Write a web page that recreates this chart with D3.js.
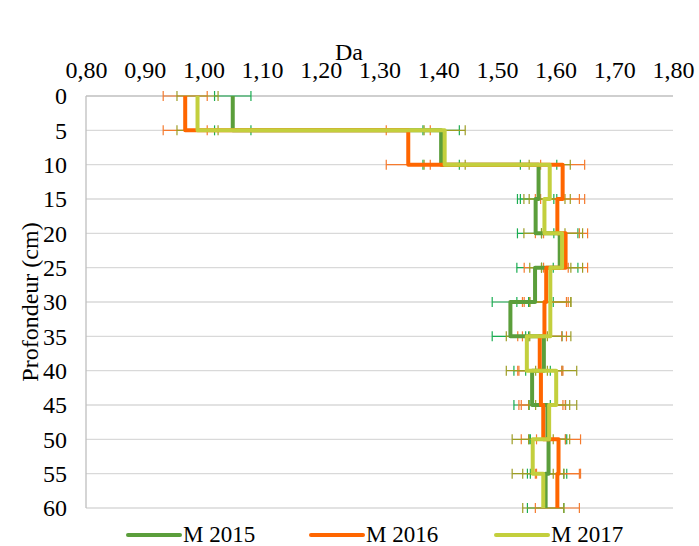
<!DOCTYPE html>
<html>
<head>
<meta charset="utf-8">
<script src="https://cdn.jsdelivr.net/npm/d3@7"></script>
<style>
  html, body { margin: 0; padding: 0; background: #fff; }
  svg text { font-family: "Liberation Serif", "Times New Roman", serif; fill: #000; }
</style>
</head>
<body>
<svg id="chart" width="699" height="546"></svg>
<script>
// Depth boundaries of the sampled layers (cm)
const depths = [0, 5, 10, 15, 20, 25, 30, 35, 40, 45, 50, 55, 60];
// Bulk density (Da) per 5 cm layer, from top to bottom
const m2015 = [1.05, 1.405, 1.571, 1.566, 1.607, 1.565, 1.523, 1.580, 1.560, 1.586, 1.588, 1.583];
const m2016 = [0.969, 1.349, 1.612, 1.603, 1.617, 1.584, 1.581, 1.573, 1.575, 1.579, 1.605, 1.603];
const m2017 = [0.990, 1.411, 1.590, 1.581, 1.611, 1.591, 1.591, 1.551, 1.601, 1.589, 1.561, 1.579];
// Error bar half-widths per layer
const err2015 = [0.031, 0.031, 0.031, 0.031, 0.031, 0.031, 0.031, 0.031, 0.031, 0.031, 0.031, 0.031];
const err2016 = [0.0375, 0.0375, 0.0375, 0.0375, 0.0375, 0.0375, 0.0375, 0.0375, 0.0375, 0.0375, 0.0375, 0.0375];
const err2017 = [0.035, 0.035, 0.035, 0.035, 0.035, 0.035, 0.035, 0.035, 0.035, 0.035, 0.035, 0.035];
const seriesNames = ["M 2015", "M 2016", "M 2017"];
const xTicks = [0.8, 0.9, 1.0, 1.1, 1.2, 1.3, 1.4, 1.5, 1.6, 1.7, 1.8];
const yTicks = [0, 5, 10, 15, 20, 25, 30, 35, 40, 45, 50, 55, 60];

const series = [
  { name: seriesNames[0], values: m2015, err: err2015, color: "#5b9e3b", errColor: "#1aad52" },
  { name: seriesNames[1], values: m2016, err: err2016, color: "#ff6600", errColor: "#f57a2e" },
  { name: seriesNames[2], values: m2017, err: err2017, color: "#c3cf3d", errColor: "#9d9d25" }
];

const FONT = '"Liberation Serif", "Times New Roman", serif';
const svg = d3.select("#chart");
const plot = { left: 86, right: 673, top: 96, bottom: 508 };

const x = d3.scaleLinear().domain([0.8, 1.8]).range([plot.left, plot.right]);
const y = d3.scaleLinear().domain([0, 60]).range([plot.top, plot.bottom]);

const fr = d3.formatLocale({ decimal: ",", thousands: " ", grouping: [3], currency: ["", " €"] });
const fmt = fr.format(".2f");

// Horizontal gridlines
svg.append("g")
  .selectAll("line")
  .data(yTicks.filter(d => d > 0))
  .join("line")
  .attr("x1", plot.left).attr("x2", plot.right)
  .attr("y1", d => y(d)).attr("y2", d => y(d))
  .attr("stroke", "#d9d9d9").attr("stroke-width", 1.3);

// Axis lines (top and left)
svg.append("line")
  .attr("x1", plot.left).attr("x2", plot.right)
  .attr("y1", y(0)).attr("y2", y(0))
  .attr("stroke", "#bfbfbf").attr("stroke-width", 1.5);
svg.append("line")
  .attr("x1", plot.left).attr("x2", plot.left)
  .attr("y1", y(0)).attr("y2", y(60))
  .attr("stroke", "#bfbfbf").attr("stroke-width", 1.3);

// Top axis labels
const xAxis = svg.append("g")
  .attr("transform", `translate(0,78)`)
  .call(d3.axisTop(x).tickValues(xTicks).tickFormat(fmt).tickSize(0).tickPadding(0));
xAxis.select(".domain").remove();
xAxis.attr("font-family", null);
xAxis.selectAll("text")
  .style("font-family", FONT)
  .style("font-size", "24px").attr("fill", "#000");

// Left axis labels
const yAxis = svg.append("g")
  .attr("transform", `translate(${plot.left - 19},0)`)
  .call(d3.axisLeft(y).tickValues(yTicks).tickFormat(d3.format("d")).tickSize(0).tickPadding(0));
yAxis.select(".domain").remove();
yAxis.attr("font-family", null);
yAxis.selectAll("text")
  .style("font-family", FONT)
  .style("font-size", "24px").attr("fill", "#000");

// Axis titles
svg.append("text")
  .attr("x", 349).attr("y", 60)
  .attr("text-anchor", "middle")
  .style("font-family", FONT).style("font-size", "24px")
  .text("Da");
svg.append("text")
  .attr("transform", `translate(30,${(plot.top + plot.bottom) / 2}) rotate(-90)`)
  .attr("text-anchor", "middle")
  .attr("dy", "0.32em")
  .style("font-family", FONT).style("font-size", "24px")
  .text("Profondeur (cm)");

// Each layer gives two points: its top and bottom depth at the layer's value
function stepPoints(s) {
  const pts = [];
  s.values.forEach((v, i) => {
    pts.push({ v, d: depths[i], e: s.err[i] });
    pts.push({ v, d: depths[i + 1], e: s.err[i] });
  });
  return pts;
}

// Error bars
const capHalf = 5;
series.forEach(s => {
  const g = svg.append("g").attr("stroke", s.errColor).attr("stroke-width", 1.2).attr("fill", "none");
  const pts = stepPoints(s);
  g.selectAll("line.bar").data(pts).join("line").attr("class", "bar")
    .attr("x1", p => x(p.v - p.e)).attr("x2", p => x(p.v + p.e))
    .attr("y1", p => y(p.d)).attr("y2", p => y(p.d));
  g.selectAll("line.capl").data(pts).join("line").attr("class", "capl")
    .attr("x1", p => x(p.v - p.e)).attr("x2", p => x(p.v - p.e))
    .attr("y1", p => y(p.d) - capHalf).attr("y2", p => y(p.d) + capHalf);
  g.selectAll("line.capr").data(pts).join("line").attr("class", "capr")
    .attr("x1", p => x(p.v + p.e)).attr("x2", p => x(p.v + p.e))
    .attr("y1", p => y(p.d) - capHalf).attr("y2", p => y(p.d) + capHalf);
});

// Step profiles
const line = d3.line().x(p => x(p.v)).y(p => y(p.d));
series.forEach(s => {
  svg.append("path")
    .datum(stepPoints(s))
    .attr("d", line)
    .attr("fill", "none")
    .attr("stroke", s.color)
    .attr("stroke-width", 4)
    .attr("stroke-linejoin", "round");
});

// Legend
const legendX = [128, 311, 496];
const legend = svg.append("g");
series.forEach((s, i) => {
  const lx = legendX[i], ly = 535;
  legend.append("line")
    .attr("x1", lx).attr("x2", lx + 52)
    .attr("y1", ly).attr("y2", ly)
    .attr("stroke", s.color).attr("stroke-width", 4).attr("stroke-linecap", "round");
  legend.append("text")
    .attr("x", lx + 55).attr("y", ly + 7)
    .style("font-family", FONT).style("font-size", "23px")
    .text(s.name);
});
</script>
</body>
</html>
